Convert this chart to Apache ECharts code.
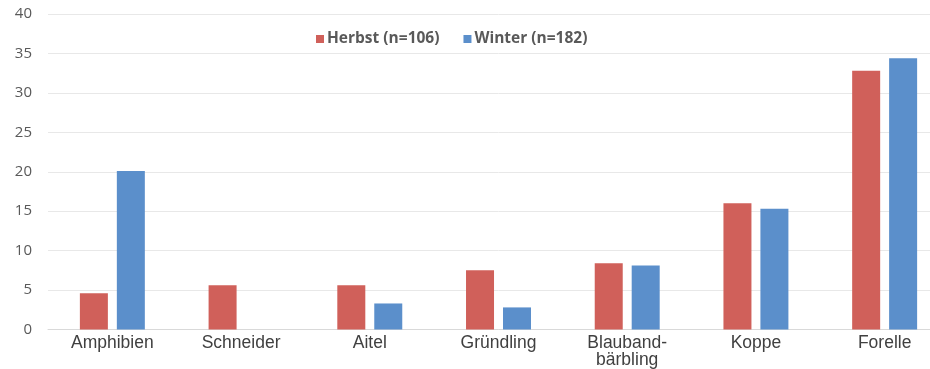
<!DOCTYPE html>
<html>
<head>
<meta charset="utf-8">
<script src="https://cdn.jsdelivr.net/npm/echarts@6/dist/echarts.min.js"></script>
<style>
  html, body { margin: 0; padding: 0; background: #fff; overflow: hidden; }
  /* the drawing surface is a little wider than the window, so the last category is cut at the right edge */
  #chart { width: 949px; height: 369px; }
</style>
</head>
<body>
<div id="chart"></div>
<script>
// Fish species found in the samples, autumn vs. winter (%)
const categories = ['Amphibien', 'Schneider', 'Aitel', 'Gründling', 'Blauband-\nbärbling', 'Koppe', 'Forelle'];
const herbst = [4.6, 5.6, 5.6, 7.5, 8.4, 16.0, 32.8];
const winter = [20.1, 0, 3.3, 2.8, 8.1, 15.3, 34.4];
const seriesNames = ['Herbst (n=106)', 'Winter (n=182)'];
const yTicks = { min: 0, max: 40, interval: 5 };

const chart = echarts.init(document.getElementById('chart'), null, { renderer: 'canvas' });

chart.setOption({
  animation: false,
  backgroundColor: '#ffffff',
  grid: { left: 48, right: 0, top: 14, bottom: 39 },
  legend: {
    top: 26,
    left: 311,
    itemWidth: 8,
    itemHeight: 8,
    itemGap: 24,
    icon: 'rect',
    textStyle: { color: '#595959', fontSize: 15.5, fontWeight: 'bold', fontFamily: 'Open Sans', padding: [0, 0, 0, -2] },
    data: seriesNames
  },
  xAxis: {
    type: 'category',
    data: categories,
    axisLine: { show: true, lineStyle: { color: '#d9d9d9' } },
    axisTick: { show: false },
    axisLabel: { color: '#404040', fontSize: 17.5, fontFamily: 'Liberation Sans', margin: 5, lineHeight: 17, interval: 0 }
  },
  yAxis: {
    type: 'value',
    min: yTicks.min,
    max: yTicks.max,
    interval: yTicks.interval,
    axisLine: { show: false },
    axisTick: { show: false },
    splitLine: { lineStyle: { color: '#e8e8e8', width: 1 } },
    axisLabel: { color: '#595959', fontSize: 15, fontFamily: 'Open Sans', margin: 16 }
  },
  series: [
    {
      name: seriesNames[0],
      type: 'bar',
      data: herbst,
      barWidth: 28,
      barGap: '32%',
      itemStyle: { color: '#d0605a' }
    },
    {
      name: seriesNames[1],
      type: 'bar',
      data: winter,
      barWidth: 28,
      itemStyle: { color: '#5b8fcb' }
    }
  ]
});
</script>
</body>
</html>
